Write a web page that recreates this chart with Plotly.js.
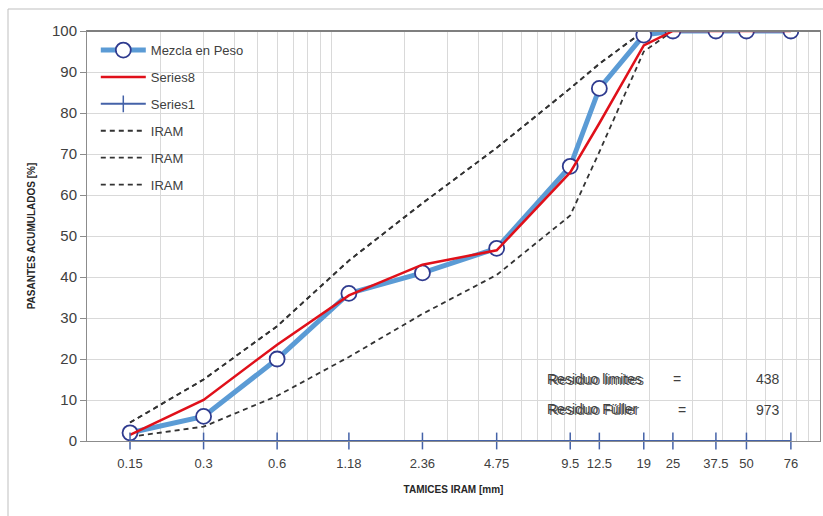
<!DOCTYPE html>
<html>
<head>
<meta charset="utf-8">
<script src="https://cdn.plot.ly/plotly-3.0.1.min.js"></script>
<style>html,body{margin:0;padding:0;background:#fff;}#chart{width:823px;height:516px;}</style>
</head>
<body>
<div id="chart"></div>
<script>
const sieves = [0.15, 0.3, 0.6, 1.18, 2.36, 4.75, 9.5, 12.5, 19, 25, 37.5, 50, 76];
const sieveLabels = ["0.15","0.3","0.6","1.18","2.36","4.75","9.5","12.5","19","25","37.5","50","76"];
const mezcla = [2, 6, 20, 36, 41, 47, 67, 86, 99, 100, 100, 100, 100];
const series8 = [1.5, 10, 23.5, 35.5, 43, 46.5, 65.5, 77.5, 96.5, 100, 100, 100, 100];
const series1 = [0, 0, 0, 0, 0, 0, 0, 0, 0, 0, 0, 0, 0];
const iramUpper = [4.5, 15, 28, 44, 58, 71.5, 86, 92, 100, 100, 100, 100, 100];
const iramLower = [1, 3.5, 11, 20.5, 31, 40.5, 55, 70.5, 95, 100, 100, 100, 100];
const iramThird = [4.5, 15, 28, 44, 58, 71.5, 86, 92, 100, 100, 100, 100, 100];
const resLimLabel = "Residuo limites";
const resFulLabel = "Residuo Füller";
const resLimValue = "438";
const resFulValue = "973";

const FONT = "Liberation Sans, Arial, sans-serif";
const iramStyle = {color: "#333333", width: 1.8, dash: "5px,4px"};

const traces = [
  {x: sieves, y: mezcla, name: "Mezcla en Peso", mode: "lines+markers", legendgroup: "a",
   line: {color: "#5b9bd5", width: 5},
   marker: {symbol: "circle", size: 15, color: "#ffffff", line: {color: "#2f3b8f", width: 1.8}}},
  {x: sieves, y: series8, name: "Series8", mode: "lines", legendgroup: "b",
   line: {color: "#e0101a", width: 2.5}},
  {x: sieves, y: series1, name: "Series1", mode: "lines+markers", legendgroup: "c", cliponaxis: false,
   line: {color: "#4462a8", width: 2},
   marker: {symbol: "line-ns", size: 12, line: {color: "#4462a8", width: 1.5}}},
  {x: sieves, y: iramUpper, name: "IRAM", mode: "lines", legendgroup: "d", line: iramStyle},
  {x: sieves, y: iramLower, name: "IRAM", mode: "lines", legendgroup: "e", line: iramStyle},
  {x: sieves, y: iramThird, name: "IRAM", mode: "lines", legendgroup: "f", line: iramStyle}
];
const ordered = [traces[3], traces[4], traces[5], traces[0], traces[1], traces[2]];
ordered.forEach((t, i) => { t.legendrank = [4,5,6,1,2,3][i]; });

function px2x(p){ return (p - 87) / 733; }
function px2y(p){ return (441 - p) / 410; }

const annFont = {family: FONT, size: 14, color: "#404040"};
const annFontShadow = {family: FONT, size: 14, color: "#404040", shadow: "2px 1px 0px rgba(64,64,64,0.85)"};
const annotations = [
  {text: resLimLabel, x: px2x(545), y: px2y(379), xanchor: "left", font: annFontShadow},
  {text: "=", x: px2x(677), y: px2y(379), xanchor: "center"},
  {text: resLimValue, x: px2x(782), y: px2y(379), xanchor: "right"},
  {text: resFulLabel, x: px2x(545), y: px2y(409), xanchor: "left", font: annFontShadow},
  {text: "=", x: px2x(682), y: px2y(410), xanchor: "center"},
  {text: resFulValue, x: px2x(782), y: px2y(410), xanchor: "right"}
].map(a => Object.assign({xref: "paper", yref: "paper", yanchor: "middle", showarrow: false, font: annFont}, a));

const layout = {
  width: 823, height: 516,
  margin: {l: 87, r: 3, t: 31, b: 75},
  paper_bgcolor: "#ffffff", plot_bgcolor: "#ffffff",
  font: {family: FONT, color: "#404040"},
  showlegend: true,
  legend: {x: 0.012, y: 0.99, xanchor: "left", yanchor: "top", bgcolor: "rgba(0,0,0,0)",
           font: {family: FONT, size: 13, color: "#404040"}, itemwidth: 45, tracegroupgap: 7,
           traceorder: "grouped"},
  xaxis: {type: "log", range: [-1, 2], tickmode: "array", tickvals: sieves, ticktext: sieveLabels,
          showgrid: false, zeroline: false, showline: true, linecolor: "#8c8c8c", linewidth: 1, mirror: true,
          ticks: "outside", ticklen: 10, tickcolor: "rgba(0,0,0,0)",
          tickfont: {family: FONT, size: 13, color: "#404040"},
          minor: {dtick: "D1", showgrid: true, gridcolor: "#d9d9d9", gridwidth: 1, ticks: ""},
          title: {text: "<b>TAMICES IRAM [mm]</b>", font: {family: FONT, size: 10, color: "#262626"}, standoff: 16}},
  yaxis: {range: [0, 100], dtick: 10, showgrid: true, gridcolor: "#d9d9d9", gridwidth: 1, zeroline: false,
          showline: true, linecolor: "#8c8c8c", linewidth: 1, mirror: true,
          ticks: "outside", ticklen: 6, tickcolor: "#8c8c8c",
          tickfont: {family: FONT, size: 15, color: "#404040"},
          title: {text: "<b>PASANTES ACUMULADOS [%]</b>", font: {family: FONT, size: 10, color: "#262626"}, standoff: 14}},
  annotations: annotations,
  shapes: [
    {type: "rect", xref: "paper", yref: "paper", x0: px2x(8), x1: px2x(840), y0: px2y(540), y1: px2y(9),
     line: {color: "#bfbfbf", width: 1}, fillcolor: "rgba(0,0,0,0)", layer: "below"},
    {type: "line", xref: "paper", yref: "paper", x0: 0, x1: 1, y0: 1, y1: 1, line: {color: "#7f7f7f", width: 2}}
  ]
};

Plotly.newPlot("chart", ordered, layout, {displayModeBar: false, staticPlot: true});
</script>
</body>
</html>
